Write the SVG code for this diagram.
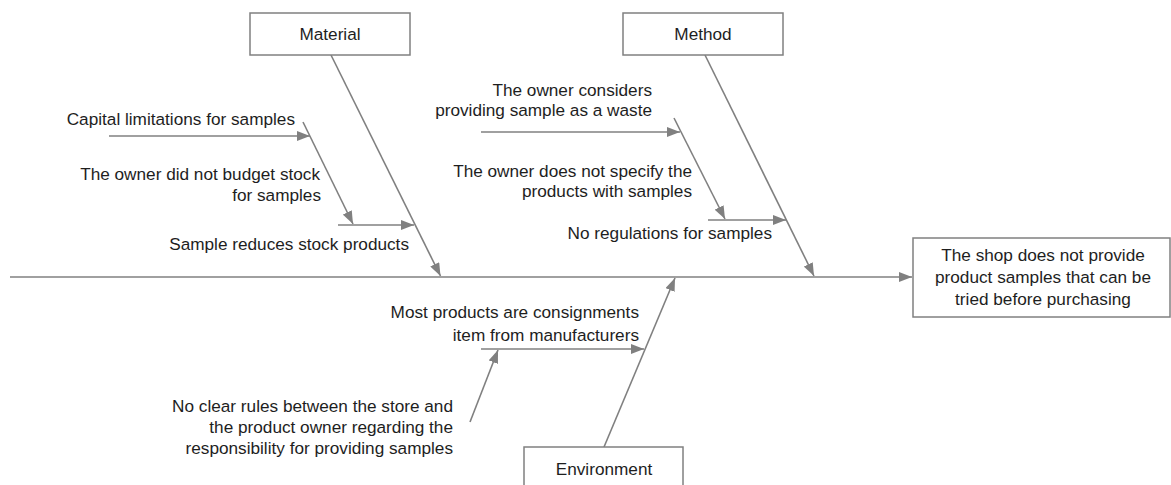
<svg xmlns="http://www.w3.org/2000/svg" width="1171" height="485" viewBox="0 0 1171 485">
<defs>
<marker id="ah" markerWidth="13" markerHeight="10" refX="13" refY="5" orient="auto" markerUnits="userSpaceOnUse">
<path d="M0,0 L13,5 L0,10 Z" fill="#808080"/>
</marker>
<style>
.box{fill:#fff;stroke:#808080;stroke-width:1.5}
.ar{stroke:#808080;stroke-width:1.6;fill:none;marker-end:url(#ah)}
text{font-family:"Liberation Sans",Arial,sans-serif;font-size:17.2px;fill:#1e1e1e}
.e{text-anchor:end}
.m{text-anchor:middle}
</style>
</defs>
<rect width="1171" height="485" fill="#fff"/>
<g id="connectors">
<line class="ar" x1="10" y1="277" x2="912" y2="277"/>
<line class="ar" x1="331" y1="55" x2="440.5" y2="276"/>
<line class="ar" x1="705" y1="55" x2="814" y2="276"/>
<line class="ar" x1="604" y1="447" x2="675" y2="278"/>
<line class="ar" x1="109" y1="136" x2="310" y2="136"/>
<line class="ar" x1="303" y1="122" x2="353" y2="224"/>
<line class="ar" x1="338" y1="225" x2="414" y2="225"/>
<line class="ar" x1="481" y1="132" x2="680" y2="132"/>
<line class="ar" x1="674" y1="118" x2="725" y2="219"/>
<line class="ar" x1="708" y1="220" x2="786" y2="220"/>
<line class="ar" x1="481" y1="349" x2="644" y2="349"/>
<line class="ar" x1="470" y1="422" x2="498" y2="350"/>
</g>
<g id="material">
<rect class="box" x="250" y="13" width="160" height="42"/>
<text class="m" x="330" y="40">Material</text>
</g>
<g id="method">
<rect class="box" x="623" y="13" width="160" height="42"/>
<text class="m" x="703" y="40">Method</text>
</g>
<g id="environment">
<rect class="box" x="524" y="447" width="159" height="50"/>
<text class="m" x="604" y="475">Environment</text>
</g>
<g id="effect">
<rect class="box" x="913" y="238" width="257" height="79"/>
<text class="m" x="1043" y="261">The shop does not provide</text>
<text class="m" x="1043" y="283">product samples that can be</text>
<text class="m" x="1043" y="305">tried before purchasing</text>
</g>
<g id="cause-capital">
<text class="e" x="295" y="125">Capital limitations for samples</text>
</g>
<g id="cause-budget">
<text class="e" x="320" y="180">The owner did not budget stock</text>
<text class="e" x="321" y="201">for samples</text>
</g>
<g id="cause-stock">
<text class="e" x="409" y="250">Sample reduces stock products</text>
</g>
<g id="cause-waste">
<text class="e" x="652" y="96">The owner considers</text>
<text class="e" x="652" y="116">providing sample as a waste</text>
</g>
<g id="cause-specify">
<text class="e" x="692" y="177">The owner does not specify the</text>
<text class="e" x="692" y="197">products with samples</text>
</g>
<g id="cause-regulations">
<text class="e" x="772" y="239">No regulations for samples</text>
</g>
<g id="cause-consignment">
<text class="e" x="639" y="318">Most products are consignments</text>
<text class="e" x="639" y="341">item from manufacturers</text>
</g>
<g id="cause-rules">
<text class="e" x="453" y="412">No clear rules between the store and</text>
<text class="e" x="453" y="433">the product owner regarding the</text>
<text class="e" x="453" y="454">responsibility for providing samples</text>
</g>
</svg>
